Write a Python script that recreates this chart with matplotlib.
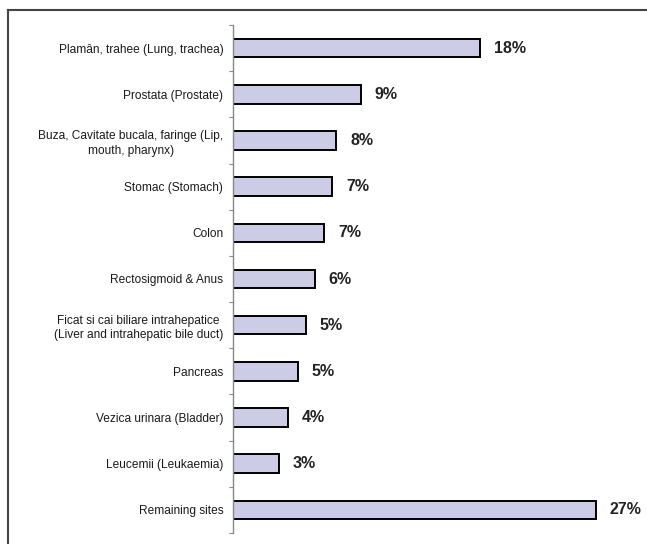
import matplotlib.pyplot as plt
from matplotlib.lines import Line2D

sites = ["Plamân, trahee (Lung, trachea)",
         "Prostata (Prostate)",
         "Buza, Cavitate bucala, faringe (Lip,\nmouth, pharynx)",
         "Stomac (Stomach)",
         "Colon",
         "Rectosigmoid & Anus",
         "Ficat si cai biliare intrahepatice\n(Liver and intrahepatic bile duct)",
         "Pancreas",
         "Vezica urinara (Bladder)",
         "Leucemii (Leukaemia)",
         "Remaining sites"]
share = [18.4, 9.5, 7.7, 7.4, 6.8, 6.1, 5.4, 4.8, 4.1, 3.4, 27.0]
share_labels = ["18%", "9%", "8%", "7%", "7%", "6%", "5%", "5%", "4%", "3%", "27%"]

plt.rcParams['font.family'] = ['Liberation Sans', 'DejaVu Sans']

fig = plt.figure(figsize=(6.47, 5.44), dpi=100)
ax = fig.add_axes([233/647, 11/544, (640-233)/647, (533-25)/544])

pos = list(range(len(sites)))
ax.barh(pos, share, height=0.4, color='#ccccE6', edgecolor='black', linewidth=1.4)

for i, v in enumerate(share):
	ax.annotate(share_labels[i], (v, i), xytext=(10, 0), textcoords='offset points',
	            ha='left', va='center', fontsize=11.5, fontweight='bold', color='#222222')

ax.set_xlim(0, (640-233)/13.44)
ax.set_ylim(len(sites)-0.5, -0.5)
ax.set_yticks(pos)
ax.set_yticklabels(sites, fontsize=8.6, color='#1a1a1a', multialignment='center', linespacing=1.3)
ax.set_yticks([p - 0.5 for p in pos] + [len(sites)-0.5], minor=True)
ax.tick_params(axis='y', which='major', length=0, pad=7)
ax.tick_params(axis='y', which='minor', length=3, color='#888888', width=0.8)
ax.set_xticks([])
for s in ['top', 'right', 'bottom']:
	ax.spines[s].set_visible(False)
ax.spines['left'].set_color('#888888')
ax.spines['left'].set_linewidth(1)

# outer frame of the picture (cut at right and bottom)
fig.add_artist(Line2D([7.5/647, 1], [1-10/544, 1-10/544], transform=fig.transFigure, color='#444444', lw=1.5))
fig.add_artist(Line2D([7.5/647, 7.5/647], [0, 1-10/544], transform=fig.transFigure, color='#444444', lw=1.5))

plt.savefig("out.png", dpi=100)
plt.close()
